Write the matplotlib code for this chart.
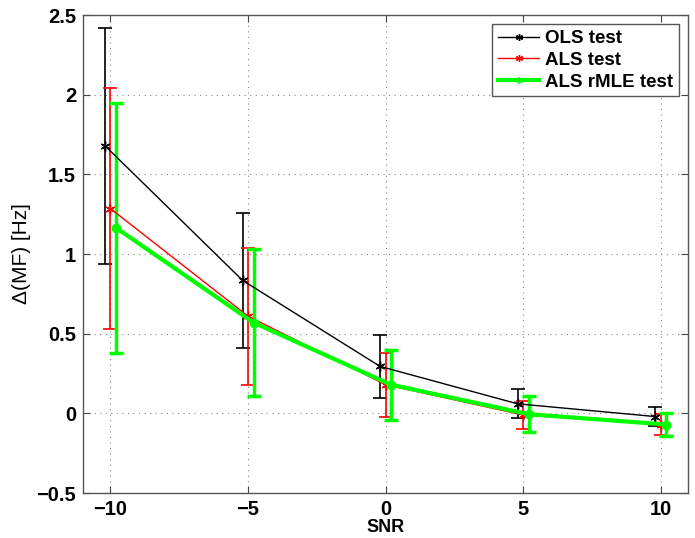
import numpy as np
import matplotlib.pyplot as plt
from matplotlib.lines import Line2D

snr = np.array([-10, -5, 0, 5, 10])

ols_mean = [1.68, 0.835, 0.295, 0.06, -0.02]
ols_err = [0.74, 0.425, 0.2, 0.09, 0.06]

als_mean = [1.285, 0.61, 0.18, -0.01, -0.07]
als_err = [0.755, 0.43, 0.2, 0.09, 0.065]

rmle_mean = [1.165, 0.57, 0.18, -0.005, -0.07]
rmle_err = [0.785, 0.46, 0.22, 0.115, 0.075]

plt.rcParams['font.family'] = ['Liberation Sans', 'DejaVu Sans']

fig = plt.figure(figsize=(6.95, 5.38), dpi=100)
ax = fig.add_axes([0.1194, 0.0836, 0.8706, 0.8884])

asterisk = (6, 2, 0)
green = (0, 1, 0)

ax.errorbar(snr - 0.2, ols_mean, yerr=ols_err, color='black', lw=1,
            marker=asterisk, ms=7, capsize=5, elinewidth=1.2, capthick=1.2)
ax.errorbar(snr, als_mean, yerr=als_err, color='red', lw=1,
            marker=asterisk, ms=7, capsize=5, elinewidth=1.2, capthick=1.2)
ax.errorbar(snr + 0.2, rmle_mean, yerr=rmle_err, color=green, lw=3,
            marker='o', ms=6, capsize=5, elinewidth=2.5, capthick=2.5)

ax.set_xlim(-11, 11)
ax.set_ylim(-0.5, 2.5)
ax.set_xticks([-10, -5, 0, 5, 10])
ax.set_xticklabels(['\u221210', '\u22125', '0', '5', '10'])
ax.set_yticks([-0.5, 0, 0.5, 1, 1.5, 2, 2.5])
ax.set_yticklabels(['\u22120.5', '0', '0.5', '1', '1.5', '2', '2.5'])
ax.tick_params(direction='in', top=True, right=True, labelsize=14.5,
               color='#444444', length=5, pad=5)
for lab in ax.get_xticklabels() + ax.get_yticklabels():
    lab.set_fontweight('bold')
for s in ax.spines.values():
    s.set_color('#555555')
    s.set_linewidth(1)

ax.grid(True, linestyle=(0, (1, 4)), color='#888888', lw=0.8)

ax.set_xlabel('SNR', fontsize=13, fontweight='bold', labelpad=0)
ax.set_ylabel('\u0394(MF) [Hz]', fontsize=15, labelpad=4)

handles = [
    Line2D([], [], color='black', lw=1, marker=asterisk, ms=5),
    Line2D([], [], color='red', lw=1, marker=asterisk, ms=5),
    Line2D([], [], color=green, lw=3, marker=asterisk, ms=5),
]
leg = ax.legend(handles, ['OLS test', 'ALS test', 'ALS rMLE test'],
                loc='upper right', fancybox=False, framealpha=1,
                edgecolor='#555555', prop={'weight': 'bold', 'size': 13.5},
                handlelength=2.2, handletextpad=0.3, borderpad=0.3,
                labelspacing=0.25, borderaxespad=0.5)

plt.savefig('out.png', dpi=100)
plt.close()
